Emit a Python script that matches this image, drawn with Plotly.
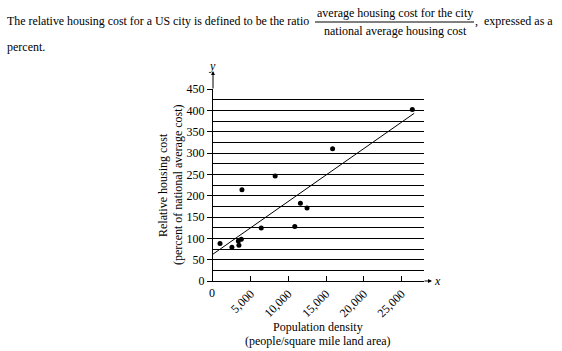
import plotly.graph_objects as go

# Data
density = [930, 2510, 3360, 3440, 3760, 3840, 6400, 8250, 10850, 11600, 12480, 15870, 26450]
housing_cost = [88, 79, 94, 84, 98, 214, 124, 246, 128, 182, 171, 310, 402]
fit_x = [0, 26700]
fit_y = [63, 393]
x_tick_vals = [5000, 10000, 15000, 20000, 25000]
x_tick_text = ["5,000", "10,000", "15,000", "20,000", "25,000"]
y_tick_vals = [0, 50, 100, 150, 200, 250, 300, 350, 400, 450]

FONT = "Liberation Serif"

fig = go.Figure()
fig.add_trace(go.Scatter(x=fit_x, y=fit_y, mode="lines",
                         line=dict(color="black", width=1), hoverinfo="skip"))
fig.add_trace(go.Scatter(x=density, y=housing_cost, mode="markers",
                         marker=dict(color="black", size=5)))

fig.update_layout(
    width=562, height=351,
    margin=dict(l=213, r=138, t=89, b=70),
    paper_bgcolor="white", plot_bgcolor="white",
    showlegend=False,
    font=dict(family=FONT, size=12, color="black"),
    xaxis=dict(range=[0, 28000], tickvals=x_tick_vals, ticktext=x_tick_text,
               tickangle=-45, ticks="inside", ticklen=5, tickcolor="black",
               showgrid=False, zeroline=False, showline=True, linecolor="black",
               linewidth=1, tickfont=dict(family=FONT, size=12)),
    yaxis=dict(range=[0, 450], tickvals=y_tick_vals, ticks="outside", ticklen=5,
               tickcolor="black", showgrid=True, gridcolor="black", gridwidth=1,
               minor=dict(dtick=25, showgrid=True, gridcolor="black", gridwidth=1),
               zeroline=False, showline=True, linecolor="black", linewidth=1,
               tickfont=dict(family=FONT, size=12)),
)

ann = [
    # heading text
    dict(x=5, y=21, text="The relative housing cost for a US city is defined to be the ratio",
         xanchor="left", yanchor="middle", size=11.9),
    dict(x=395, y=13, text="average housing cost for the city", xanchor="center", yanchor="middle"),
    dict(x=395, y=31, text="national average housing cost", xanchor="center", yanchor="middle"),
    dict(x=473, y=21, text=",&nbsp; expressed as a", xanchor="left", yanchor="middle"),
    dict(x=5, y=47, text="percent.", xanchor="left", yanchor="middle"),
    # axis titles
    dict(x=163, y=185, text="Relative housing cost", textangle=-90, xanchor="center", yanchor="middle"),
    dict(x=178, y=185, text="(percent of national average cost)", textangle=-90, xanchor="center", yanchor="middle"),
    dict(x=318, y=327, text="Population density", xanchor="center", yanchor="middle"),
    dict(x=318, y=341, text="(people/square mile land area)", xanchor="center", yanchor="middle"),
    dict(x=437, y=281, text="<i>x</i>", xanchor="center", yanchor="middle"),
    dict(x=212, y=66, text="<i>y</i>", xanchor="center", yanchor="middle"),
    dict(x=212, y=293, text="0", xanchor="center", yanchor="middle"),
]
annotations = []
for a in ann:
    px, py = a.pop("x"), a.pop("y")
    size = a.pop("size", 12)
    annotations.append(dict(xref="paper", yref="paper",
                            x=(px - 213) / 211, y=(281 - py) / 192,
                            showarrow=False, font=dict(family=FONT, size=size, color="black"), **a))

# axis arrows
annotations.append(dict(xref="x", yref="paper", x=0, y=(281 - 71) / 192, ax=0, ay=19,
                        showarrow=True, arrowhead=2, arrowsize=0.8, arrowwidth=1,
                        arrowcolor="black", text=""))
annotations.append(dict(xref="paper", yref="y", x=(432 - 213) / 211, y=0, ax=-9, ay=0,
                        showarrow=True, arrowhead=2, arrowsize=0.8, arrowwidth=1,
                        arrowcolor="black", text=""))
fig.update_layout(annotations=annotations)

fig.add_shape(type="line", xref="paper", yref="paper",
              x0=(315 - 213) / 211, x1=(474 - 213) / 211,
              y0=(281 - 22) / 192, y1=(281 - 22) / 192,
              line=dict(color="black", width=1))

fig.write_html("out.html")
